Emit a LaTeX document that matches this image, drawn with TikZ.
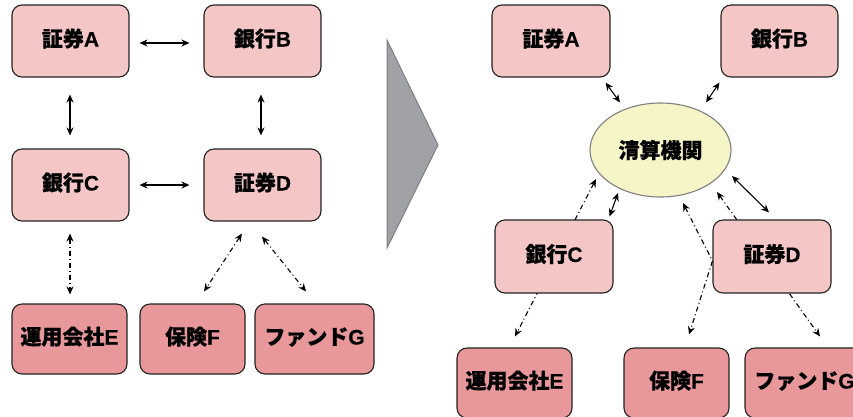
\documentclass[tikz,border=0pt]{standalone}
\usepackage{fontspec}
\setmainfont{Noto Sans CJK JP}[BoldFeatures={FakeBold=0.6}]
\newfontfamily\lat{Liberation Sans}[BoldFeatures={FakeBold=0.3}]
\usetikzlibrary{calc,arrows.meta,shapes.geometric}
\definecolor{pinkA}{HTML}{F4C7C6}
\definecolor{pinkB}{HTML}{E8989A}
\definecolor{ellfill}{HTML}{F5F5C8}
\definecolor{trifill}{HTML}{A1A2A6}
\definecolor{trigray}{HTML}{7F7F80}
\definecolor{edge}{HTML}{222222}
\tikzset{
  box/.style={draw=edge, line width=1.1pt, rounded corners=10pt, fill=pinkA,
    minimum width=117pt, minimum height=72pt, inner sep=0pt,
    text height=16pt, text depth=5pt,
    font=\fontsize{21}{24}\selectfont\bfseries},
  boxlow/.style={box, fill=pinkB, minimum height=70pt},
  clear/.style={ellipse, draw=trigray, line width=1.1pt, fill=ellfill,
    minimum width=141pt, minimum height=94pt, inner sep=0pt,
    font=\fontsize{21}{24}\selectfont\bfseries},
  link/.style={line width=1.1pt, {Stealth[length=8pt,width=7pt]}-{Stealth[length=8pt,width=7pt]}},
  dlink/.style={link, dash pattern=on 5pt off 3pt on 1pt off 3pt},
}
\begin{document}
\begin{tikzpicture}[x=1pt,y=-1pt]
\useasboundingbox (0,0) rectangle (853,416);
% ---------- left ----------
\node[box] (LA) at (70.5,41) {証券{\lat A}};
\node[box] (LB) at (262.5,41) {銀行{\lat B}};
\node[box] (LC) at (70.5,185) {銀行{\lat C}};
\node[box] (LD) at (262.5,185) {証券{\lat D}};
\node[boxlow, minimum width=115pt] (LE) at (69.5,339) {運用会社{\lat E}};
\node[boxlow, minimum width=105pt] (LF) at (192.5,339) {保険{\lat F}};
\node[boxlow, minimum width=119pt] (LG) at (314.5,339) {ファンド{\lat G}};
\draw[link] ($(LA.east)+(10,2)$) -- ($(LB.west)+(-14,2)$);
\draw[link] ($(LA.south)+(-0.5,17)$) -- ($(LC.north)+(-0.5,-13)$);
\draw[link] ($(LB.south)+(-1.5,17)$) -- ($(LD.north)+(-1.5,-13)$);
\draw[link] ($(LC.east)+(10,0)$) -- ($(LD.west)+(-14,0)$);
\draw[dlink] ($(LC.south)+(-0.5,12)$) -- ($(LE.north)+(0.5,-9)$);
\draw[dlink] ($(LD.south)+(-20.5,12)$) -- ($(LF.north)+(11.5,-12)$);
\draw[dlink] ($(LD.south)+(-0.5,15)$) -- ($(LG.north)+(-8.5,-12)$);
% ---------- arrow ----------
\filldraw[fill=trifill, draw=trigray, line width=1pt] (387,40) -- (438,145) -- (387,248) -- cycle;
% ---------- right ----------
\node[clear] (CL) at (660.5,150) {清算機関};
\node[box, minimum width=118pt] (RA) at (551,41) {証券{\lat A}};
\node[box] (RB) at (779.5,41) {銀行{\lat B}};
\node[boxlow, minimum width=115pt] (RE) at (514.5,383) {運用会社{\lat E}};
\node[boxlow, minimum width=105pt] (RF) at (676.5,383) {保険{\lat F}};
\node[boxlow, minimum width=119pt] (RG) at (804.5,383) {ファンド{\lat G}};
\draw[dlink] ($(CL.center)+(-64.5,29)$) -- ($(RE.north)+(0.5,-11)$);
\draw[dlink] ($(CL.center)+(56.5,42)$) -- ($(RG.north)+(15.5,-11)$);
\node[box, minimum width=118pt, minimum height=73pt] (RC) at (554,256.5) {銀行{\lat C}};
\node[box, minimum width=118pt, minimum height=73pt] (RD) at (772,256.5) {証券{\lat D}};
\draw[dlink] ($(CL.center)+(22.5,53)$) -- ($(RD.west)+(0,4.5)$) -- ($(RF.north)+(12.5,-13)$);
\draw[link] ($(RA.south east)+(-5,5)$) -- ($(CL.north)+(-40.5,0)$);
\draw[link] ($(RB.south west)+(-1,5)$) -- ($(CL.north)+(45.5,0)$);
\draw[link] ($(CL.center)+(71.5,26)$) -- ($(RD.north)+(-3,-7)$);
\draw[link] ($(RC.north east)+(-4,-3)$) -- ($(CL.center)+(-42.5,43)$);
\end{tikzpicture}
\end{document}
